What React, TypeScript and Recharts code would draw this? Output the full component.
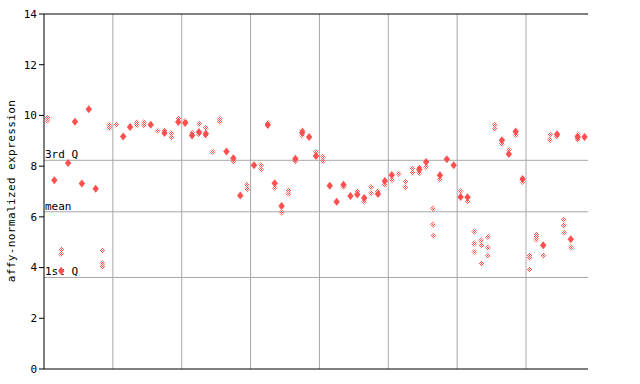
import { ReferenceLine, Scatter, ScatterChart, XAxis, YAxis } from 'recharts';

// one entry per sample (79 samples, a grid line every 10)
const solidValues: number[][] = [
  [], [7.44], [3.86], [8.12], [9.75], [7.32], [10.24], [7.11], [], [],
  [], [9.17], [9.54], [], [], [9.63], [], [9.31], [], [9.74],
  [9.7], [9.21], [9.35], [9.28], [], [], [8.58], [8.31], [6.84], [],
  [8.04], [], [9.62], [7.33], [6.43], [], [8.29], [9.33], [9.15], [8.4],
  [], [7.23], [6.6], [7.27], [6.82], [6.88], [6.74], [], [6.9], [7.41],
  [7.65], [], [], [], [7.87], [8.16], [], [7.64], [8.27], [8.04],
  [6.78], [6.77], [], [], [], [], [9.02], [8.48], [9.37], [7.49],
  [], [], [4.88], [], [9.26], [], [5.12], [9.15], [9.15],
];

const hatchedValues: number[][] = [
  [9.9, 9.8], [], [4.71, 4.53], [], [], [], [], [], [4.67, 4.16, 4.03], [9.63, 9.5],
  [9.63], [], [], [9.72, 9.62], [9.72, 9.62], [], [9.4], [9.42], [9.31, 9.15], [9.88],
  [9.78], [9.31], [9.67, 9.27], [9.5, 9.2], [8.57], [9.87, 9.74], [], [8.18], [], [7.27, 7.1],
  [], [8.04, 7.88], [9.7], [7.15], [6.17], [7.05, 6.92], [8.2], [9.42, 9.22], [], [8.56],
  [8.36, 8.2], [], [], [7.2], [], [7.01], [6.6], [7.18, 6.94], [7.0], [7.27],
  [7.44], [7.7], [7.38, 7.18], [7.9, 7.74], [7.96, 7.74], [7.96], [6.33, 5.7, 5.26], [7.48], [], [],
  [7.01], [6.6], [5.42, 4.95, 4.63], [5.07, 4.87, 4.16], [5.2, 4.79, 4.47], [9.63, 9.48], [8.88], [8.65], [9.24], [7.38],
  [4.47, 4.38, 3.92], [5.3, 5.2, 5.11], [4.47], [9.24, 9.04], [9.18], [5.89, 5.66, 5.38], [4.79], [9.24, 9.04], [],
];

const statLabels = ['3rd Q', 'mean', '1st Q'];
const statValues = [8.23, 6.2, 3.61];
const yTicks = [0, 2, 4, 6, 8, 10, 12, 14];
const groupBreaks = [10, 20, 30, 40, 50, 60, 70];

const RED = '#ff5050';
const mono = 'DejaVu Sans Mono';

const toPoints = (rows: number[][]) =>
  rows.flatMap((vals, i) => vals.map((v) => ({ x: i + 0.5, y: v })));

const solidPoints = toPoints(solidValues);
const hatchedPoints = toPoints(hatchedValues);

function SolidDiamond(props: any) {
  const { cx, cy } = props;
  if (cx == null || cy == null) return null;
  return <polygon points={`${cx},${cy - 4} ${cx + 3.2},${cy} ${cx},${cy + 4} ${cx - 3.2},${cy}`} fill={RED} />;
}

function HatchedDiamond(props: any) {
  const { cx, cy } = props;
  if (cx == null || cy == null) return null;
  return <polygon points={`${cx},${cy - 3.2} ${cx + 3},${cy} ${cx},${cy + 3.2} ${cx - 3},${cy}`} fill="url(#hatch)" />;
}

export default function App() {
  return (
    <div style={{ width: 640, height: 384, background: '#fff' }}>
      <style>{'body{margin:0}'}</style>
      <svg width={0} height={0} style={{ position: 'absolute' }}>
        <defs>
          <pattern id="hatch" patternUnits="userSpaceOnUse" width={2} height={2}>
            <rect x={0} y={0} width={1} height={1} fill={RED} />
            <rect x={1} y={1} width={1} height={1} fill={RED} />
          </pattern>
        </defs>
      </svg>
      <ScatterChart width={640} height={384} margin={{ top: 14, right: 52, bottom: 15, left: 0 }}>
        <XAxis type="number" dataKey="x" domain={[0, 79]} hide />
        <YAxis
          type="number"
          dataKey="y"
          domain={[0, 14]}
          ticks={yTicks}
          width={44}
          tickSize={5}
          axisLine={{ stroke: '#000' }}
          tickLine={{ stroke: '#000' }}
          tick={{ fontFamily: mono, fontSize: 11, fill: '#000' }}
          label={{
            content: () => (
              <text
                x={15}
                y={191}
                transform="rotate(-90 15 191)"
                textAnchor="middle"
                fontFamily={mono}
                fontSize={11}
                letterSpacing={0.4}
                fill="#000"
              >
                affy-normalized expression
              </text>
            ),
          }}
        />
        <YAxis
          yAxisId="r"
          orientation="right"
          type="number"
          domain={[0, 14]}
          ticks={yTicks}
          width={0}
          mirror
          tickSize={5}
          axisLine={{ stroke: '#000' }}
          tickLine={{ stroke: '#000' }}
          tick={() => <g />}
        />
        {groupBreaks.map((b) => (
          <ReferenceLine key={b} x={b} stroke="#a8a8a8" />
        ))}
        {statValues.map((v, i) => (
          <ReferenceLine
            key={statLabels[i]}
            y={v}
            stroke="#a8a8a8"
            label={{
              content: (p: any) => (
                <text x={p.viewBox.x + 1} y={p.viewBox.y - 2} fontFamily={mono} fontSize={11} fill="#000">
                  {statLabels[i]}
                </text>
              ),
            }}
          />
        ))}
        <ReferenceLine y={14} stroke="#000" />
        <ReferenceLine y={0} stroke="#000" />
        <Scatter data={hatchedPoints} shape={HatchedDiamond} isAnimationActive={false} />
        <Scatter data={solidPoints} shape={SolidDiamond} isAnimationActive={false} />
      </ScatterChart>
    </div>
  );
}
